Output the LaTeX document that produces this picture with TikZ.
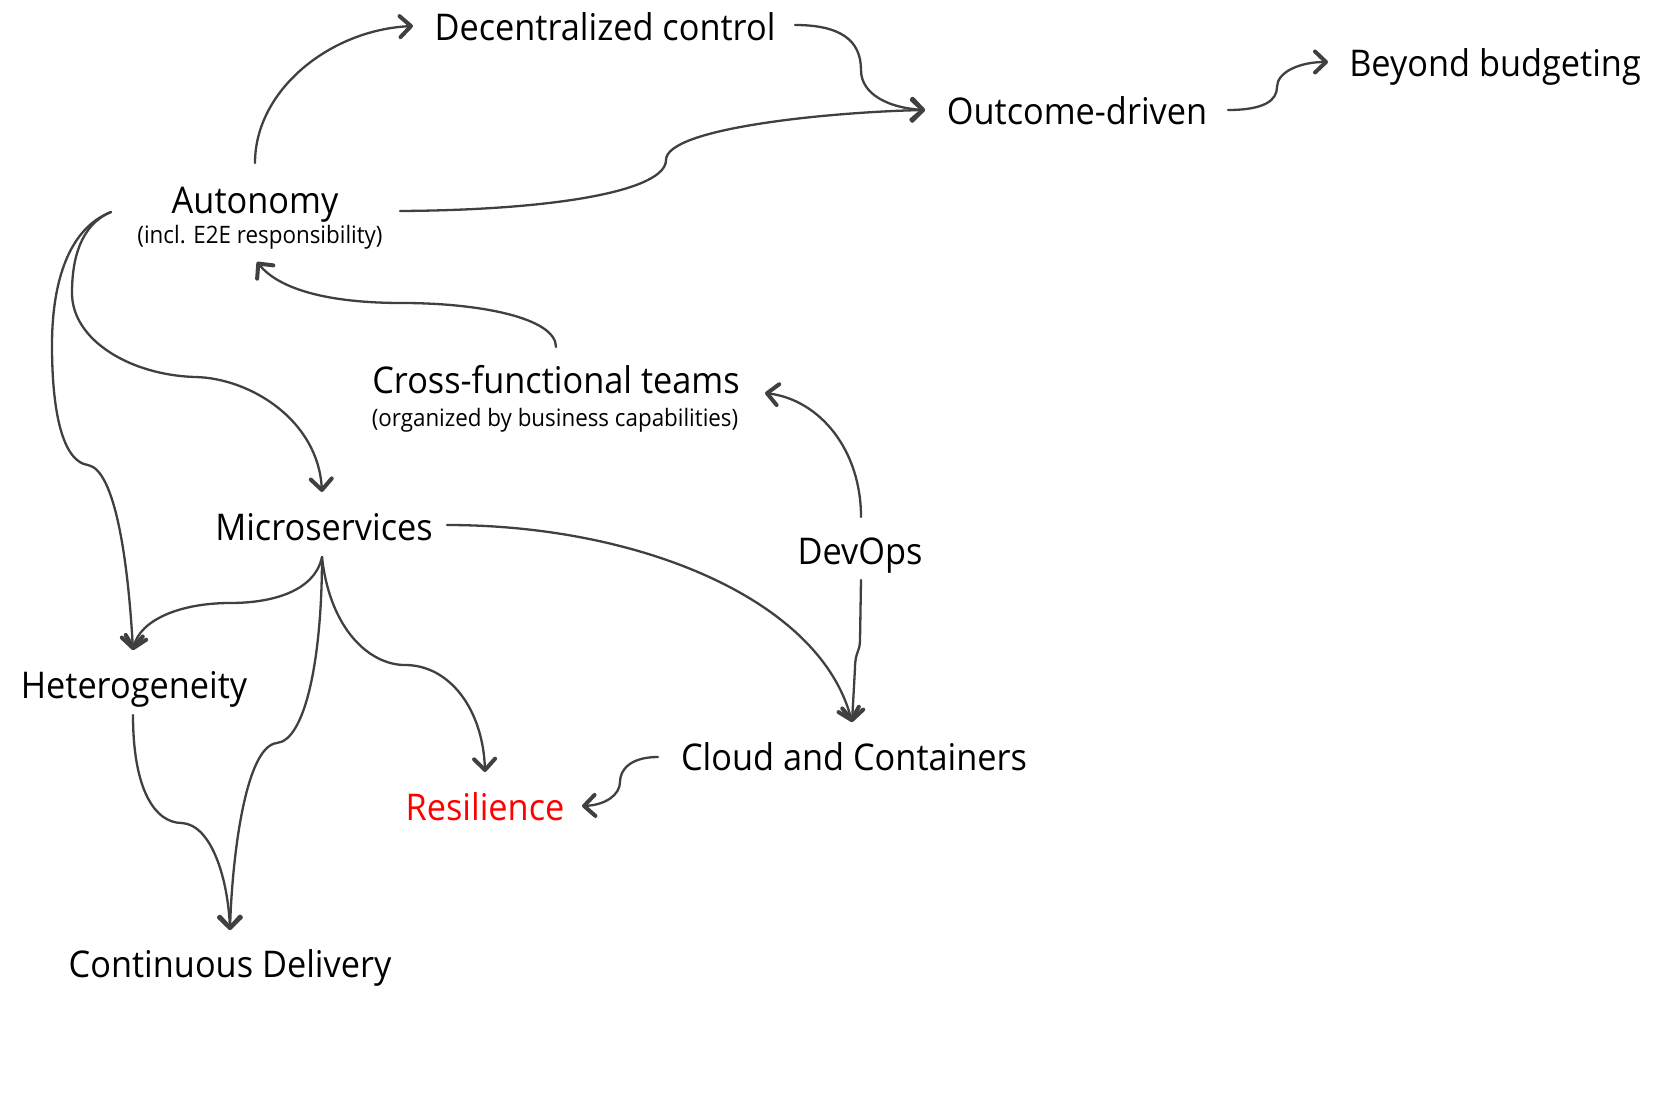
\documentclass[tikz,border=0pt]{standalone}
\usepackage{fontspec}
\setmainfont{Open Sans}
\usetikzlibrary{arrows.meta}
\definecolor{edgegray}{HTML}{404040}
\definecolor{resred}{HTML}{FF0000}
\newcommand{\narrowtxt}[1]{\scalebox{0.932}[1]{#1}}
\begin{document}
\begin{tikzpicture}[x=1pt,y=-1pt,
  lbl/.style={anchor=base,inner sep=0pt,font=\fontsize{36.8}{42}\selectfont,text=black},
  sublbl/.style={anchor=base,inner sep=0pt,font=\fontsize{24}{28}\selectfont,text=black},
  conn/.style={draw=edgegray,line width=2.3pt,line cap=round,
    -{Straight Barb[length=11pt,width=21pt,line width=4pt,round]}},
]
\useasboundingbox[fill=white] (0,0) rectangle (1680,1118);

\node[lbl] (dec) at (605,41) {\narrowtxt{Decentralized control}};
\node[lbl] (out) at (1077,125) {\narrowtxt{Outcome-driven}};
\node[lbl] (bey) at (1495,77) {\narrowtxt{Beyond budgeting}};
\node[lbl] (aut) at (255,213) {\narrowtxt{Autonomy}};
\node[sublbl] (autsub) at (260,243) {\narrowtxt{(incl. E2E responsibility)}};
\node[lbl] (cft) at (556,393) {\narrowtxt{Cross-functional teams}};
\node[sublbl] (cftsub) at (555,426) {\narrowtxt{(organized by business capabilities)}};
\node[lbl] (mic) at (324,540) {\narrowtxt{Microservices}};
\node[lbl] (dev) at (860,564) {\narrowtxt{DevOps}};
\node[lbl] (het) at (134,698) {\narrowtxt{Heterogeneity}};
\node[lbl] (cld) at (854,770) {\narrowtxt{Cloud and Containers}};
\node[lbl,text=resred] (res) at (485,820) {\narrowtxt{Resilience}};
\node[lbl] (cd) at (230,977) {\narrowtxt{Continuous Delivery}};

\draw[conn] ([shift={(0,-50)}]aut.base) .. controls (255,90) and (330,30) .. ([shift={(-192,-15)}]dec.base);
\draw[conn] ([shift={(190,-16)}]dec.base) .. controls (840,25) and (861,40) .. (861,70) .. controls (861,95) and (890,108) .. ([shift={(-152,-15)}]out.base);
\draw[conn] ([shift={(145,-2)}]aut.base) .. controls (560,210) and (666,190) .. (666,160) .. controls (666,128) and (830,112) .. ([shift={(-152,-15)}]out.base);
\draw[conn] ([shift={(151,-15)}]out.base) .. controls (1265,110) and (1277,100) .. (1277,87) .. controls (1277,72) and (1300,62) .. ([shift={(-167,-15)}]bey.base);
\draw[conn] ([shift={(0,-46)}]cft.base) .. controls (556,318) and (480,303) .. (402,303) .. controls (330,303) and (280,290) .. ([shift={(-3,19)}]autsub.base);
\draw[conn] ([shift={(1,-47)}]dev.base) .. controls (861,450) and (820,400) .. ([shift={(209,0)}]cft.base);
\draw[conn] ([shift={(1,16)}]dev.base) -- (860,640) .. controls (860,652) and (855,652) .. (855,668) -- ([shift={(-2,-48)}]cld.base);
\draw[conn] ([shift={(123,-15)}]mic.base) .. controls (640,525) and (820,600) .. ([shift={(-2,-48)}]cld.base);
\draw[conn] ([shift={(-144,-1)}]aut.base) .. controls (80,225) and (72,260) .. (72,293) .. controls (72,340) and (130,375) .. (195,377) .. controls (250,378) and (318,420) .. ([shift={(-2,-48)}]mic.base);
\draw[conn] ([shift={(-144,-1)}]aut.base) .. controls (65,230) and (52,290) .. (52,345) .. controls (52,420) and (65,462) .. (88,465) .. controls (115,470) and (128,560) .. ([shift={(-1,-48)}]het.base);
\draw[conn] ([shift={(-2,17)}]mic.base) .. controls (315,590) and (275,603) .. (230,603) .. controls (180,603) and (140,620) .. ([shift={(-1,-48)}]het.base);
\draw[conn] ([shift={(-2,17)}]mic.base) .. controls (330,630) and (370,665) .. (405,665) .. controls (450,665) and (483,710) .. ([shift={(0,-48)}]res.base);
\draw[conn] ([shift={(-2,17)}]mic.base) .. controls (322,660) and (305,740) .. (277,743) .. controls (245,746) and (232,860) .. ([shift={(0,-47)}]cd.base);
\draw[conn] ([shift={(-1,17)}]het.base) .. controls (133,790) and (155,823) .. (182,823) .. controls (212,825) and (228,880) .. ([shift={(0,-47)}]cd.base);
\draw[conn] ([shift={(-196,-13)}]cld.base) .. controls (630,757) and (620,770) .. (620,782) .. controls (620,795) and (605,805) .. ([shift={(97,-14)}]res.base);
\end{tikzpicture}
\end{document}
